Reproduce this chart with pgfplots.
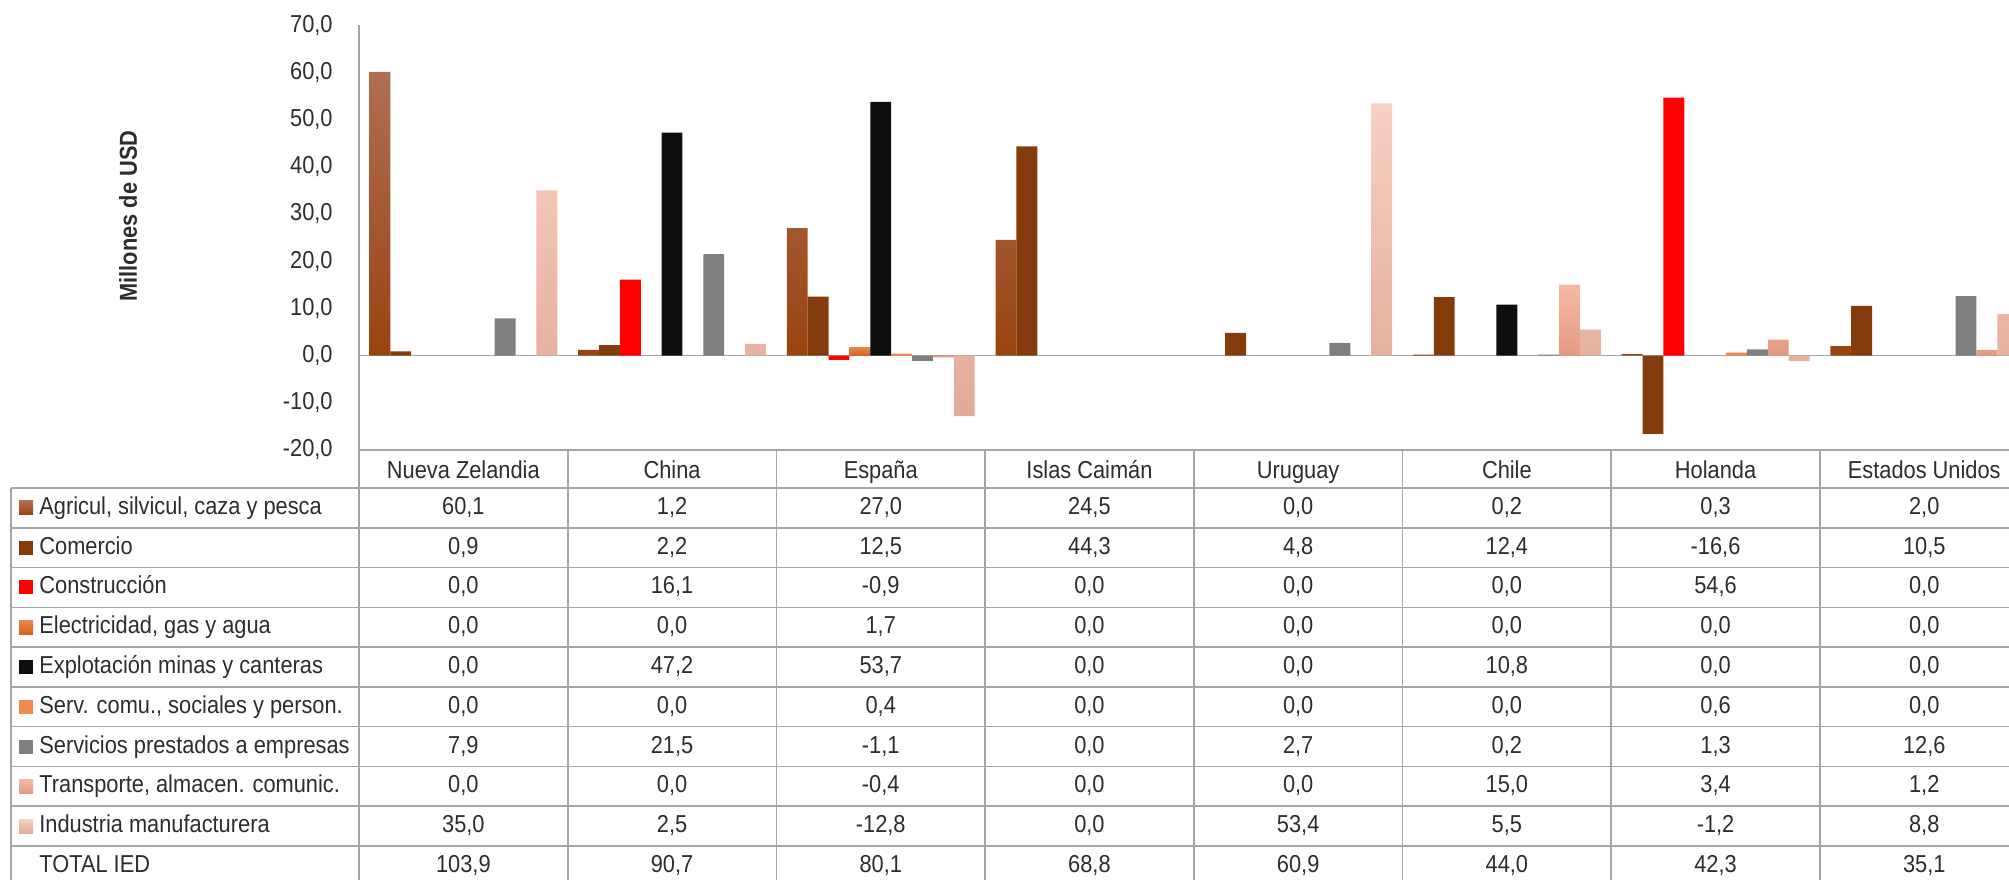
\documentclass[border=0pt]{standalone}
\usepackage{pgfplots}
\pgfplotsset{compat=1.18}
\usepackage{pgfplotstable}
\usepackage{fontspec}
\setmainfont[FakeStretch=0.89]{Liberation Sans}

\definecolor{txt}{RGB}{45,45,45}
\definecolor{tblline}{RGB}{166,166,166}
\definecolor{agriT}{RGB}{176,110,82}
\definecolor{agriB}{RGB}{152,68,16}
\definecolor{comC}{RGB}{132,60,12}
\definecolor{consC}{RGB}{255,0,0}
\definecolor{elecT}{RGB}{234,134,76}
\definecolor{elecB}{RGB}{214,98,30}
\definecolor{explC}{RGB}{13,13,13}
\definecolor{servC}{RGB}{242,138,80}
\definecolor{emprC}{RGB}{127,127,127}
\definecolor{transT}{RGB}{246,186,164}
\definecolor{transB}{RGB}{228,152,128}
\definecolor{indT}{RGB}{249,208,194}
\definecolor{indB}{RGB}{226,170,152}

\tikzset{
  sagri/.style={top color=agriT, bottom color=agriB},
  scom/.style={fill=comC},
  scons/.style={fill=consC},
  selec/.style={top color=elecT, bottom color=elecB},
  sexpl/.style={fill=explC},
  sserv/.style={fill=servC},
  sempr/.style={fill=emprC},
  strans/.style={top color=transT, bottom color=transB},
  sind/.style={top color=indT, bottom color=indB},
  stotal/.style={draw=none, fill=none},
}

\pgfplotstableread{
idx agri com cons elec expl serv empr trans ind total
0 60.1 0.9 0.0 0.0 0.0 0.0 7.9 0.0 35.0 103.9
1 1.2 2.2 16.1 0.0 47.2 0.0 21.5 0.0 2.5 90.7
2 27.0 12.5 -0.9 1.7 53.7 0.4 -1.1 -0.4 -12.8 80.1
3 24.5 44.3 0.0 0.0 0.0 0.0 0.0 0.0 0.0 68.8
4 0.0 4.8 0.0 0.0 0.0 0.0 2.7 0.0 53.4 60.9
5 0.2 12.4 0.0 0.0 10.8 0.0 0.2 15.0 5.5 44.0
6 0.3 -16.6 54.6 0.0 0.0 0.6 1.3 3.4 -1.2 42.3
7 2.0 10.5 0.0 0.0 0.0 0.0 12.6 1.2 8.8 35.1
}\data

\begin{document}
\fontsize{12.25}{15}\selectfont
\begin{tikzpicture}
\path[use as bounding box, clip] (0pt,0pt) rectangle (1004.5pt,-439.5pt);

\begin{axis}[
  at={(179.5pt,-225pt)}, anchor=south west,
  scale only axis, width=825pt, height=212.5pt,
  xmin=-0.5, xmax=7.406, ymin=-20, ymax=70,
  ytick={-20,-10,...,70}, xtick=\empty,
  major tick length=0pt,
  axis line style={draw=none},
  y tick label style={anchor=east, inner sep=0pt, xshift=-13pt, text=txt},
  /pgf/number format/fixed,
  /pgf/number format/fixed zerofill,
  /pgf/number format/precision=1,
  /pgf/number format/use comma,
  /pgf/number format/assume math mode=true,
  ybar, bar width=0.1,
  y filter/.expression={y==0 ? nan : y},
  clip=true,
]
\draw[tblline, line width=0.8pt] (axis cs:-0.5,0) -- (axis cs:7.406,0);
\addplot[draw=none, sagri, bar shift=-0.4] table[x=idx,y=agri]{\data};
\addplot[draw=none, scom, bar shift=-0.3] table[x=idx,y=com]{\data};
\addplot[draw=none, scons, bar shift=-0.2] table[x=idx,y=cons]{\data};
\addplot[draw=none, selec, bar shift=-0.1] table[x=idx,y=elec]{\data};
\addplot[draw=none, sexpl, bar shift=0] table[x=idx,y=expl]{\data};
\addplot[draw=none, sserv, bar shift=0.1] table[x=idx,y=serv]{\data};
\addplot[draw=none, sempr, bar shift=0.2] table[x=idx,y=empr]{\data};
\addplot[draw=none, strans, bar shift=0.3] table[x=idx,y=trans]{\data};
\addplot[draw=none, sind, bar shift=0.4] table[x=idx,y=ind]{\data};
\end{axis}

% y axis label
\node[rotate=90, font=\bfseries, text=txt] at (64pt,-108pt) {Millones de USD};

% table lines
\draw[tblline, line width=0.8pt] (179.5pt,-12.5pt) -- (179.5pt,-445pt);
\draw[tblline, line width=0.8pt] (179.5pt,-225pt) -- (1004.5pt,-225pt);
\draw[tblline, line width=0.8pt] (5.5pt,-244pt) -- (5.5pt,-445pt);
\foreach \r in {0,...,9}{
  \draw[tblline, line width=0.8pt] (5.5pt,{-(244pt+19.89pt*\r)}) -- (1004.5pt,{-(244pt+19.89pt*\r)});
}
\foreach \k in {1,...,7}{
  \draw[tblline, line width=0.8pt] ({179.5pt+104.35pt*\k},-225pt) -- ({179.5pt+104.35pt*\k},-445pt);
}

% header
\foreach \name [count=\k from 0] in {Nueva Zelandia,China,España,Islas Caimán,Uruguay,Chile,Holanda,Estados Unidos}{
  \node[text=txt, anchor=mid, inner sep=0pt] at ({179.5pt+104.35pt*(\k+0.5)},-236pt) {\name};
}

% row keys and labels
\newcommand\rowlab[3]{%
  \path[#2] (9.5pt,{-(253.95pt+19.89pt*#1)+3.5pt}) rectangle (16.5pt,{-(253.95pt+19.89pt*#1)-3.5pt});
  \node[text=txt, anchor=mid west, inner sep=0pt] at (19.5pt,{-(253.95pt+19.89pt*#1)}) {#3};
}
\rowlab{0}{sagri}{Agricul, silvicul, caza y pesca}
\rowlab{1}{scom}{Comercio}
\rowlab{2}{scons}{Construcción}
\rowlab{3}{selec}{Electricidad, gas y agua}
\rowlab{4}{sexpl}{Explotación minas y canteras}
\rowlab{5}{sserv}{Serv. comu., sociales y person.}
\rowlab{6}{sempr}{Servicios prestados a empresas}
\rowlab{7}{strans}{Transporte, almacen. comunic.}
\rowlab{8}{sind}{Industria manufacturera}
\rowlab{9}{stotal}{TOTAL IED}

% values
\foreach \col [count=\r from 0] in {agri,com,cons,elec,expl,serv,empr,trans,ind,total}{
  \foreach \k in {0,...,7}{
    \pgfplotstablegetelem{\k}{\col}\of\data
    \node[text=txt, anchor=mid, inner sep=0pt] at ({179.5pt+104.35pt*(\k+0.5)},{-(253.95pt+19.89pt*\r)})
      {\pgfmathprintnumber[fixed,fixed zerofill,precision=1,use comma,assume math mode=true]{\pgfplotsretval}};
  }
}
\end{tikzpicture}
\end{document}
